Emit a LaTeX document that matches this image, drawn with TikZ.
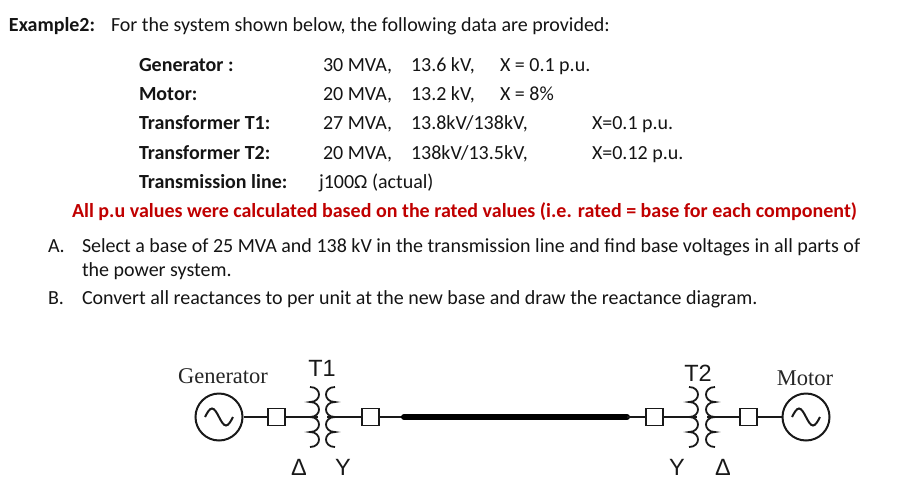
\documentclass[tikz,border=0pt]{standalone}
\usepackage{fontspec}
\setmainfont{Carlito}
\newfontfamily\serifdiag{Liberation Serif}
\newfontfamily\sansdiag{Liberation Sans}
\definecolor{warnred}{RGB}{192,0,0}
\tikzset{
  txt/.style={anchor=base west,inner sep=0pt,outer sep=0pt,font=\fontsize{20}{24}\selectfont,text=black!92},
  bld/.style={txt,font=\fontsize{20}{24}\selectfont\bfseries},
  redt/.style={bld,text=warnred},
  wire/.style={line width=1.8pt,black!90},
  busbox/.style={draw=black!90,line width=1.8pt,minimum width=17pt,minimum height=17pt,inner sep=0pt},
  source/.style={circle,draw=black!90,line width=2pt,minimum size=47pt,inner sep=0pt},
  serifl/.style={inner sep=0pt,font=\serifdiag\fontsize{22.5}{25}\selectfont,text=black!85},
  sansl/.style={inner sep=0pt,font=\sansdiag\fontsize{23.5}{25}\selectfont,text=black!90},
}
% coil: #1 x of its two ends, #2 bulge direction (+1 or -1)
\newcommand{\coilat}[2]{%
  \draw[wire] (#1,387) .. controls +(#2*12,0) and +(#2*12,0) .. (#1,402)
   .. controls +(#2*12,0) and +(#2*12,0) .. (#1,417)
   .. controls +(#2*12,0) and +(#2*12,0) .. (#1,432)
   .. controls +(#2*12,0) and +(#2*12,0) .. (#1,447);}
\newcommand{\wave}[1]{%
  \draw[line width=2pt,black!90] ([xshift=-14pt]#1.center) sin ++(7,-8.5) cos ++(7,8.5) sin ++(7,8.5) cos ++(7,-8.5);}
\begin{document}
\begin{tikzpicture}[x=1pt,y=-1pt]
\useasboundingbox (0,0) rectangle (921,493);
\node[bld] (title) at (9,31) {Example2:};
\node[txt] (intro) at (111,31) {For the system shown below, the following data are provided:};
\node[bld] (l1) at (139,71) {Generator :};
\node[bld] (l2) at (139,100) {Motor:};
\node[bld] (l3) at (139,129) {Transformer T1:};
\node[bld] (l4) at (139,159) {Transformer T2:};
\node[bld] (l5) at (139,188) {Transmission line:};
\node[txt] (a1) at (323,71) {30 MVA,};
\node[txt] (a2) at (323,100) {20 MVA,};
\node[txt] (a3) at (323,129) {27 MVA,};
\node[txt] (a4) at (323,159) {20 MVA,};
\node[txt] (a5) at (319,188) {j100Ω (actual)};
\node[txt] (b1) at (411,71) {13.6 kV,};
\node[txt] (b2) at (411,100) {13.2 kV,};
\node[txt] (b3) at (411,129) {13.8kV/138kV,};
\node[txt] (b4) at (411,159) {138kV/13.5kV,};
\node[txt] (c1) at (500,71) {X = 0.1 p.u.};
\node[txt] (c2) at (500,100) {X = 8\%};
\node[txt] (c3) at (592,129) {X=0.1 p.u.};
\node[txt] (c4) at (592,159) {X=0.12 p.u.};
\node[redt] (note) at (72,217) {All p.u values were calculated based on the rated values (i.e. rated = base for each component)};
\node[txt] (qa) at (48,252) {A.};
\node[txt] (qa1) at (82,252) {Select a base of 25 MVA and 138 kV in the transmission line and find base voltages in all parts of};
\node[txt] (qa2) at (82,276) {the power system.};
\node[txt] (qb) at (48,304) {B.};
\node[txt] (qb1) at (82,304) {Convert all reactances to per unit at the new base and draw the reactance diagram.};

\node[serifl] (genl) at (223,376) {Generator};
\node[serifl] (motl) at (805,378) {Motor};
\node[sansl] (t1l) at (322,368) {T1};
\node[sansl] (t2l) at (698,373) {T2};
\node[sansl] at (299,467) (d1) {Δ};
\node[sansl] at (343,467) (y1) {Y};
\node[sansl] at (677,467) (y2) {Y};
\node[sansl] at (723,467) (d2) {Δ};

\node[source] (gen) at (219,417) {};
\node[source] (mot) at (806,417) {};
\wave{gen}\wave{mot}
\node[busbox] (b1box) at (276.5,417) {};
\node[busbox] (b2box) at (370.5,417) {};
\node[busbox] (b3box) at (654.5,417) {};
\node[busbox] (b4box) at (748.5,417) {};
\coilat{310}{+1}\coilat{335}{-1}
\coilat{689}{+1}\coilat{715}{-1}
\coordinate (t1p) at (318,417);
\coordinate (t1s) at (327,417);
\coordinate (t2p) at (697,417);
\coordinate (t2s) at (707,417);
\coordinate (ls) at (404,417);
\coordinate (le) at (627,417);
\draw[wire] (gen) -- (b1box);
\draw[wire] (b1box) -- (t1p);
\draw[wire] (t1s) -- (b2box);
\draw[wire] (b2box) -- (ls);
\draw[line width=6pt,line cap=round,black] (ls) -- (le);
\draw[wire] (le) -- (b3box);
\draw[wire] (b3box) -- (t2p);
\draw[wire] (t2s) -- (b4box);
\draw[wire] (b4box) -- (mot);
\end{tikzpicture}
\end{document}
